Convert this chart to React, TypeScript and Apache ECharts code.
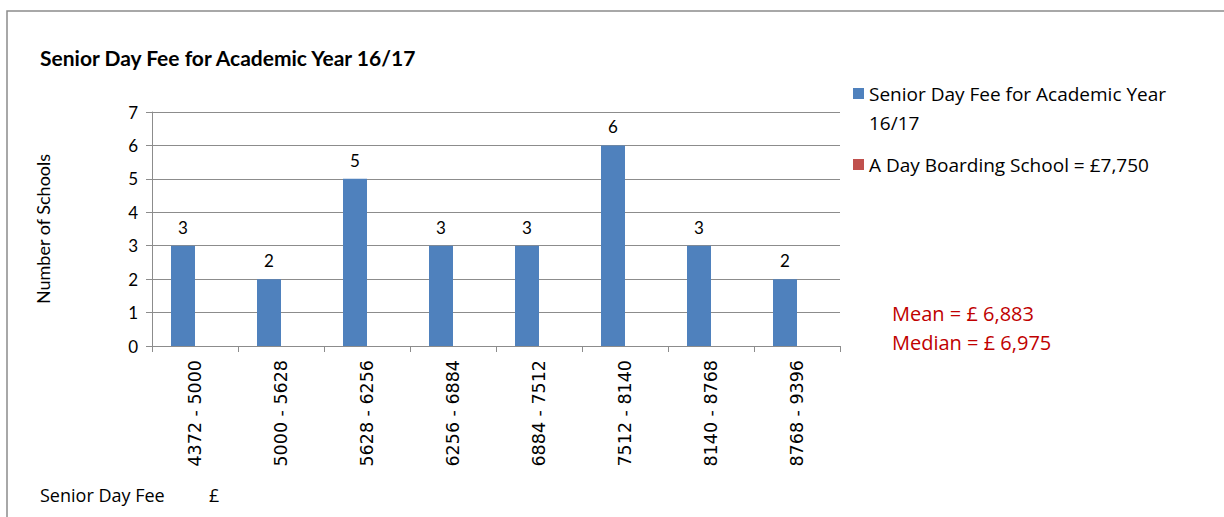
import React, { useEffect, useRef } from "react";
import * as echarts from "echarts";

const categories = [
  "4372 - 5000",
  "5000 - 5628",
  "5628 - 6256",
  "6256 - 6884",
  "6884 - 7512",
  "7512 - 8140",
  "8140 - 8768",
  "8768 - 9396",
];
const feeCounts = [3, 2, 5, 3, 3, 6, 3, 2];
const boardingCounts = [null, null, null, null, null, null, null, null];
const seriesNames = ["Senior Day Fee for Academic Year 16/17", "A Day Boarding School = £7,750"];
const titleText = "Senior Day Fee for Academic Year 16/17";
const statsLines = ["Mean = £ 6,883", "Median = £ 6,975"];
const xAxisTitle = ["Senior Day Fee", "£"];
const yAxisTitle = "Number of Schools";

const FONT = "Lato, 'Noto Sans', sans-serif";
const WIDE = "'Open Sans', 'Noto Sans', sans-serif";

export default function App() {
  const ref = useRef<HTMLDivElement>(null);
  useEffect(() => {
    document.body.style.margin = "0";
    const chart = echarts.init(ref.current!, null, { renderer: "svg" });
    chart.setOption({
      animation: false,
      backgroundColor: "#ffffff",
      textStyle: { fontFamily: FONT },
      grid: { left: 152, right: 384, top: 112, bottom: 171, containLabel: false },
      legend: {
        orient: "vertical",
        left: 853,
        top: 84,
        padding: 0,
        itemWidth: 11,
        itemHeight: 11,
        itemGap: 23,
        icon: "rect",
        data: [
          { name: seriesNames[0], textStyle: { padding: [29, 0, 0, 0] } },
          { name: seriesNames[1] },
        ],
        formatter: (n: string) =>
          n === seriesNames[0] ? "{a|Senior Day Fee for Academic Year}\n{a|16/17}" : "{a|" + n + "}",
        textStyle: {
          fontFamily: WIDE,
          fontSize: 19,
          color: "#000",
          rich: { a: { fontFamily: WIDE, fontSize: 19, color: "#000", lineHeight: 29 } },
        },
      },
      xAxis: {
        type: "category",
        data: categories,
        axisLine: { lineStyle: { color: "#8c8c8c", width: 1 } },
        axisTick: { show: true, length: 6, lineStyle: { color: "#8c8c8c" } },
        axisLabel: { rotate: 90, margin: 14, fontSize: 17.5, color: "#000", fontFamily: "'DejaVu Sans', sans-serif" },
      },
      yAxis: {
        type: "value",
        min: 0,
        max: 7,
        interval: 1,
        name: yAxisTitle,
        nameLocation: "middle",
        nameRotate: 90,
        nameGap: 100,
        nameTextStyle: { fontSize: 18, color: "#000", fontFamily: FONT },
        axisLine: { show: true, lineStyle: { color: "#8c8c8c", width: 1 } },
        axisTick: { show: true, length: 6, lineStyle: { color: "#8c8c8c" } },
        axisLabel: { margin: 14, fontSize: 17, color: "#000", fontFamily: FONT },
        splitLine: { show: true, lineStyle: { color: "#8c8c8c", width: 1 } },
      },
      series: [
        {
          name: seriesNames[0],
          type: "bar",
          data: feeCounts,
          barWidth: 24,
          barGap: "0%",
          itemStyle: { color: "#4f81bd" },
          label: { show: true, position: "top", distance: 10, fontSize: 17, color: "#000", fontFamily: FONT },
        },
        {
          name: seriesNames[1],
          type: "bar",
          data: boardingCounts,
          barWidth: 24,
          barGap: "0%",
          itemStyle: { color: "#c0504d" },
        },
      ],
      graphic: [
        {
          type: "rect",
          shape: { x: 7, y: 11, width: 1240, height: 530 },
          style: { fill: "none", stroke: "#8c8c8c", lineWidth: 1.5 },
          silent: true,
        },
        {
          type: "text",
          x: 40,
          y: 57,
          style: { text: titleText, fontFamily: FONT, fontSize: 21, fontWeight: "bold", fill: "#000", verticalAlign: "middle" },
        },
        {
          type: "text",
          x: 892,
          y: 313,
          style: { text: statsLines[0], fontFamily: WIDE, fontSize: 20, fill: "#c00000", verticalAlign: "middle" },
        },
        {
          type: "text",
          x: 892,
          y: 342,
          style: { text: statsLines[1], fontFamily: WIDE, fontSize: 20, fill: "#c00000", verticalAlign: "middle" },
        },
        {
          type: "text",
          x: 40,
          y: 495,
          style: { text: xAxisTitle[0], fontFamily: WIDE, fontSize: 18, fill: "#000", verticalAlign: "middle" },
        },
        {
          type: "text",
          x: 209,
          y: 495,
          style: { text: xAxisTitle[1], fontFamily: WIDE, fontSize: 18, fill: "#000", verticalAlign: "middle" },
        },
      ],
    });
    return () => chart.dispose();
  }, []);
  return <div ref={ref} style={{ width: 1224, height: 517 }} />;
}
